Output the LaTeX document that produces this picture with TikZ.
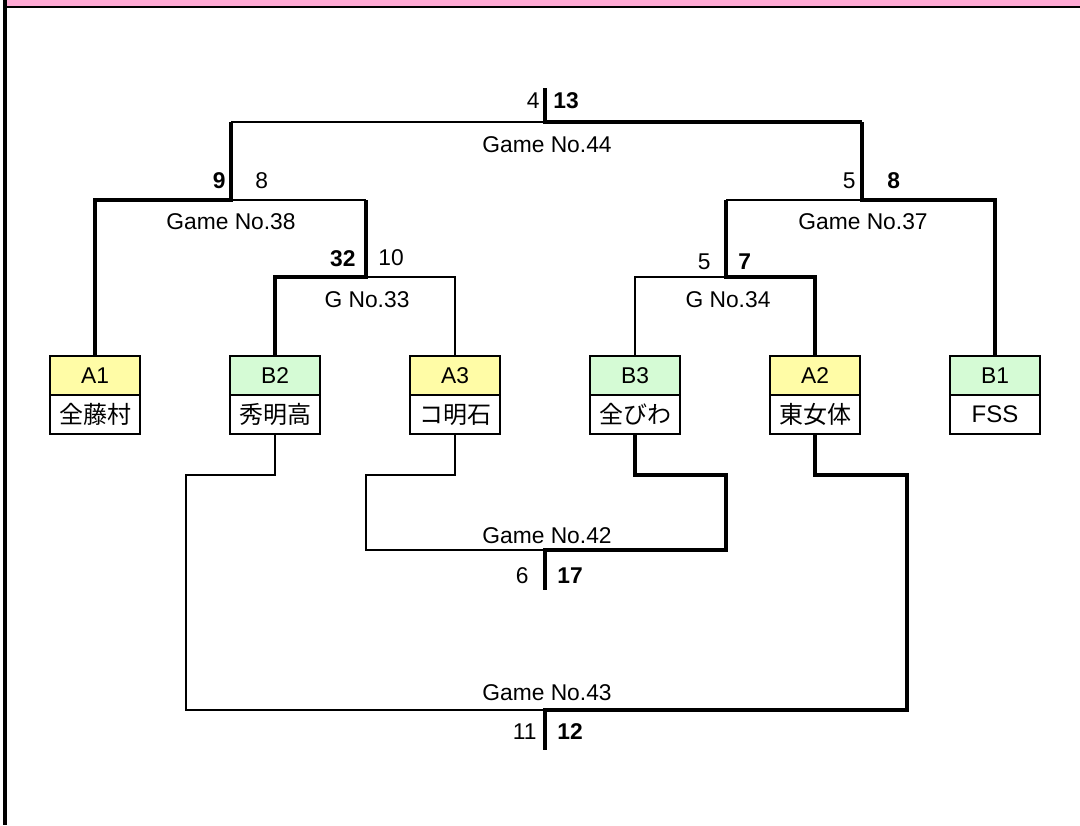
\documentclass[tikz,border=0pt]{standalone}
\usepackage{fontspec}
\setmainfont{Liberation Sans}
\newfontfamily\jpfont{Noto Sans CJK JP}
\usepackage{tikz}
\usetikzlibrary{positioning}
\definecolor{headpink}{HTML}{FFAAD4}
\definecolor{seedyellow}{HTML}{FFFCA6}
\definecolor{seedgreen}{HTML}{D5FBD5}

\begin{document}
\begin{tikzpicture}[
    x=0.5pt, y=-0.5pt,
    node distance=0pt and 45pt,
    seed/.style={rectangle, draw, line width=1pt, minimum width=45pt, minimum height=19.5pt,
                 inner sep=0pt, outer sep=0pt, font=\fontsize{11.4}{13}\selectfont},
    team/.style={seed, fill=white, font=\jpfont\fontsize{12}{14}\selectfont},
    glabel/.style={inner sep=0pt, font=\fontsize{11.4}{13}\selectfont},
    score/.style={inner sep=0pt, font=\fontsize{11.4}{13}\selectfont},
    won/.style={inner sep=0pt, font=\fontsize{11.4}{13}\selectfont\bfseries},
    lose/.style={line width=0.75pt},
    win/.style={line width=2pt}
]
\useasboundingbox (0,0) rectangle (1080,825);

% header and frame
\fill[headpink] (7,0) rectangle (1080,6);
\draw[line width=1.25pt] (3,7) -- (1080,7);
\draw[line width=2pt] (5,0) -- (5,825);

% teams
\node[seed, fill=seedyellow] (a1) at (95,375.5) {A1};
\node[seed, fill=seedgreen, right=of a1] (b2) {B2};
\node[seed, fill=seedyellow, right=of b2] (a3) {A3};
\node[seed, fill=seedgreen, right=of a3] (b3) {B3};
\node[seed, fill=seedyellow, right=of b3] (a2) {A2};
\node[seed, fill=seedgreen, right=of a2] (b1) {B1};

\node[team, below=of a1] (a1n) {全藤村};
\node[team, below=of b2] (b2n) {秀明高};
\node[team, below=of a3] (a3n) {コ明石};
\node[team, below=of b3] (b3n) {全びわ};
\node[team, below=of a2] (a2n) {東女体};
\node[team, below=of b1] (b1n) {\fontspec{Liberation Sans}FSS};

% junctions
\coordinate (g44) at (545,122);
\coordinate (t44) at (545,88);
\coordinate (g38) at (231,200);
\coordinate (g37) at (862,200);
\coordinate (g33) at (366,277);
\coordinate (g34) at (726,277);
\coordinate (g42) at (545,550);
\coordinate (e42) at (545,590);
\coordinate (g43) at (545,710);
\coordinate (e43) at (545,750);
\coordinate (d42a) at (366,475);
\coordinate (d42b) at (726,475);
\coordinate (d43a) at (186,475);
\coordinate (d43b) at (907,475);

% upper bracket
\draw[win] (b2.north) |- (g33) -- (g38 -| g33);
\draw[lose] (g33) -| (a3.north);
\draw[win] (a1.north) |- (g38) -- (g44 -| g38);
\draw[lose] (g38) -- (g38 -| g33);
\draw[win] (a2.north) |- (g34) -- (g37 -| g34);
\draw[lose] (g34) -| (b3.north);
\draw[win] (b1.north) |- (g37) -- (g44 -| g37);
\draw[lose] (g37) -- (g37 -| g34);
\draw[win] (g44 -| g37) -- (g44) -- (t44);
\draw[lose] (g44) -- (g44 -| g38);

% lower bracket
\draw[lose] (a3n.south) |- (d42a) |- (g42);
\draw[win] (b3n.south) |- (d42b) |- (g42) -- (e42);
\draw[lose] (b2n.south) |- (d43a) |- (g43);
\draw[win] (a2n.south) |- (d43b) |- (g43) -- (e43);

% game labels
\node[glabel] (l44) at (547,145) {Game No.44};
\node[glabel] (l38) at (231,222) {Game No.38};
\node[glabel] (l37) at (863,222) {Game No.37};
\node[glabel] (l33) at (367,300) {G No.33};
\node[glabel] (l34) at (728,300) {G No.34};
\node[glabel] (l42) at (547,536) {Game No.42};
\node[glabel] (l43) at (547,693) {Game No.43};

% scores
\node[score, anchor=east] (s44a) at (540,101) {4};
\node[won, anchor=west] (s44b) at (553,101) {13};
\node[won, anchor=east] (s38a) at (226,181) {9};
\node[score, anchor=west] (s38b) at (255,181) {8};
\node[score, anchor=east] (s37a) at (856,181) {5};
\node[won, anchor=west] (s37b) at (887,181) {8};
\node[won, anchor=east] (s33a) at (356,259) {32};
\node[score, anchor=west] (s33b) at (378,258) {10};
\node[score, anchor=east] (s34a) at (711,262) {5};
\node[won, anchor=west] (s34b) at (738,262) {7};
\node[score, anchor=east] (s42a) at (529,576) {6};
\node[won, anchor=west] (s42b) at (557,576) {17};
\node[score, anchor=east] (s43a) at (537,732) {11};
\node[won, anchor=west] (s43b) at (557,732) {12};

\end{tikzpicture}
\end{document}
